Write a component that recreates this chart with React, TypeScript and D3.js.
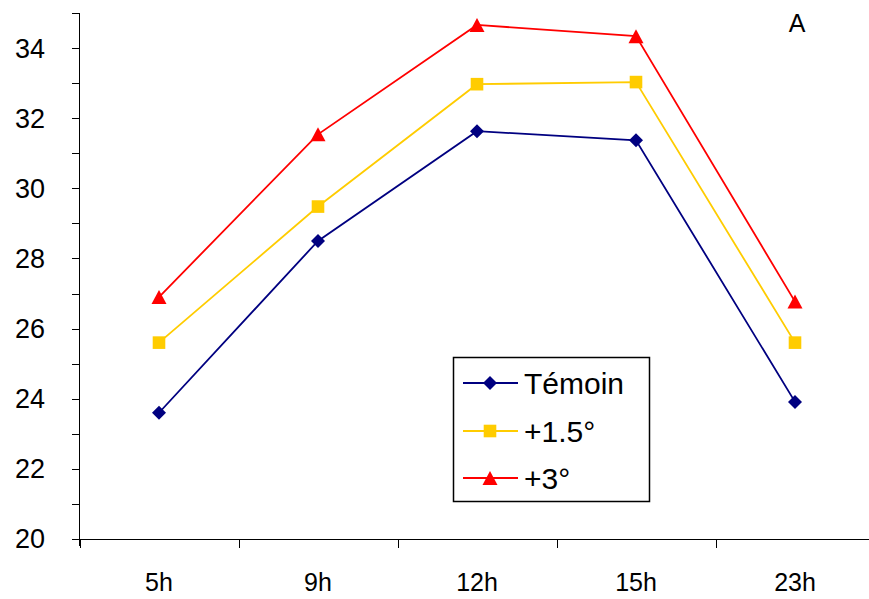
import React from "react";
import * as d3 from "d3";

const categories = ["5h", "9h", "12h", "15h", "23h"];
const temoin = [23.6, 28.5, 31.63, 31.37, 23.91];
const plus15 = [25.6, 29.48, 32.97, 33.03, 25.6];
const plus3 = [26.9, 31.54, 34.66, 34.34, 26.77];
const yTicks = d3.range(20, 36, 1);
const yLabels = [20, 22, 24, 26, 28, 30, 32, 34];

const W = 869;
const H = 599;
const FONT = "'Liberation Sans', Arial, sans-serif";

type Series = { name: string; values: number[]; color: string; marker: "diamond" | "square" | "triangle" };

const series: Series[] = [
  { name: "Témoin", values: temoin, color: "#000080", marker: "diamond" },
  { name: "+1.5°", values: plus15, color: "#FFCC00", marker: "square" },
  { name: "+3°", values: plus3, color: "#FF0000", marker: "triangle" },
];

function Marker({ kind, x, y, color }: { kind: Series["marker"]; x: number; y: number; color: string }) {
  if (kind === "diamond") {
    const r = 7;
    return <path d={`M${x},${y - r}L${x + r},${y}L${x},${y + r}L${x - r},${y}Z`} fill={color} />;
  }
  if (kind === "square") {
    const s = 6.3;
    return <rect x={x - s} y={y - s} width={2 * s} height={2 * s} fill={color} />;
  }
  const h = 14;
  const w = 15;
  return <path d={`M${x},${y - h / 2}L${x + w / 2},${y + h / 2}L${x - w / 2},${y + h / 2}Z`} fill={color} />;
}

export default function App() {
  const x = d3.scaleBand<string>().domain(categories).range([79.5, 874.5]);
  const y = d3.scaleLinear().domain([20, 35]).range([539, 13]);
  const cx = (c: string) => (x(c) ?? 0) + x.bandwidth() / 2;
  const line = d3
    .line<number>()
    .x((_, i) => cx(categories[i]))
    .y((v) => y(v));

  const boundaries = categories.map((c) => x(c) ?? 0).concat([x.range()[1]]);

  const legendX = 453.5;
  const legendY = 357.5;
  const legendRows = [383, 431, 478];

  return (
    <svg
      width={W}
      height={H}
      style={{ position: "absolute", left: 0, top: 0, background: "#fff" }}
      fontFamily={FONT}
    >
      <rect x={0} y={0} width={W} height={H} fill="#fff" />
      {/* y axis */}
      <line x1={79.5} x2={79.5} y1={y(35)} y2={546} stroke="#000" strokeWidth={1} />
      {yTicks.map((t) => (
        <line key={t} x1={72} x2={79.5} y1={Math.round(y(t)) + 0.5} y2={Math.round(y(t)) + 0.5} stroke="#000" />
      ))}
      {yLabels.map((t) => (
        <text key={t} x={45} y={y(t)} dy="0.35em" textAnchor="end" fontSize={27} fill="#000">
          {t}
        </text>
      ))}
      {/* x axis */}
      <line x1={72} x2={W} y1={539.5} y2={539.5} stroke="#000" />
      {boundaries.map((b, i) => (
        <line key={i} x1={Math.round(b) + 0.5} x2={Math.round(b) + 0.5} y1={539.5} y2={548} stroke="#000" />
      ))}
      {categories.map((c) => (
        <text key={c} x={cx(c)} y={591} textAnchor="middle" fontSize={25} fill="#000">
          {c}
        </text>
      ))}
      {/* series */}
      {series.map((s) => (
        <g key={s.name}>
          <path d={line(s.values) ?? ""} fill="none" stroke={s.color} strokeWidth={1.8} />
          {s.values.map((v, i) => (
            <Marker key={i} kind={s.marker} x={cx(categories[i])} y={y(v)} color={s.color} />
          ))}
        </g>
      ))}
      {/* panel letter */}
      <text x={797} y={32} textAnchor="middle" fontSize={25} fill="#000">
        A
      </text>
      {/* legend */}
      <rect x={legendX} y={legendY} width={196} height={144} fill="#fff" stroke="#000" strokeWidth={1.5} />
      {series.map((s, i) => (
        <g key={s.name}>
          <line x1={463} x2={518} y1={legendRows[i]} y2={legendRows[i]} stroke={s.color} strokeWidth={1.8} />
          <Marker kind={s.marker} x={490} y={legendRows[i]} color={s.color} />
          <text x={524} y={legendRows[i]} dy="0.35em" fontSize={30} fill="#000">
            {s.name}
          </text>
        </g>
      ))}
    </svg>
  );
}
